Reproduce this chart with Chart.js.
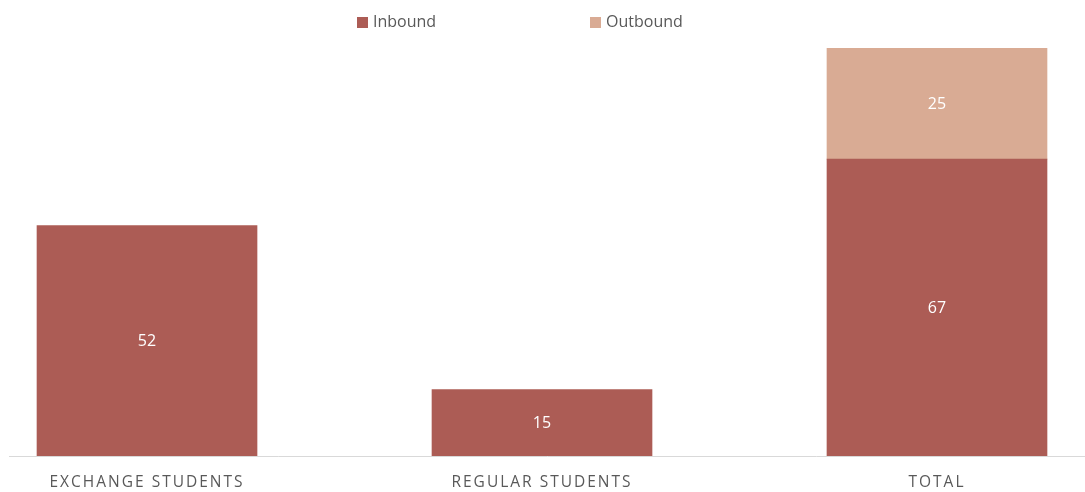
<!DOCTYPE html>
<html>
<head>
<meta charset="utf-8">
<script src="https://cdn.jsdelivr.net/npm/chart.js@4.4.0/dist/chart.umd.min.js"></script>
<style>
  html, body { margin: 0; padding: 0; background: #fff; }
  #wrap { position: relative; width: 1085px; height: 492px; }
  #legend { position: absolute; top: 9px; left: 0; width: 1085px; height: 24px; font-family: "Open Sans", sans-serif; font-size: 16px; color: #595959; }
  .item { position: absolute; top: 0; line-height: 24px; white-space: nowrap; }
  .box { display: inline-block; width: 11px; height: 11px; margin-right: 5px; vertical-align: -1px; }
</style>
</head>
<body>
<div id="wrap">
  <canvas id="chart" width="1085" height="492"></canvas>
  <div id="legend"></div>
</div>
<script>
const categories = ['EXCHANGE STUDENTS', 'REGULAR STUDENTS', 'TOTAL'];
const inbound = [52, 15, 67];
const outbound = [null, null, 25];
const seriesNames = ['Inbound', 'Outbound'];
const seriesColors = ['#ac5c55', '#d9ab94'];

// legend is html so the two items can sit far apart like the original
const legendPos = [357, 590];
const legendEl = document.getElementById('legend');
seriesNames.forEach((name, i) => {
    const item = document.createElement('span');
    item.className = 'item';
    item.style.left = legendPos[i] + 'px';
    item.innerHTML = `<span class="box" style="background:${seriesColors[i]}"></span>${name}`;
    legendEl.appendChild(item);
});

const spacingPlugin = {
    id: 'spacing',
    beforeDraw: chart => { chart.ctx.letterSpacing = '2px'; },
    beforeDatasetsDraw: chart => { chart.ctx.letterSpacing = '0px'; }
};

const valueLabels = {
    id: 'valueLabels',
    afterDatasetsDraw(chart) {
        const ctx = chart.ctx;
        ctx.save();
        ctx.letterSpacing = '0px';
        ctx.fillStyle = '#ffffff';
        ctx.font = '16px "Open Sans", sans-serif';
        ctx.textAlign = 'center';
        ctx.textBaseline = 'middle';
        chart.data.datasets.forEach((ds, di) => {
            const meta = chart.getDatasetMeta(di);
            meta.data.forEach((bar, i) => {
                const v = ds.data[i].y;
                if (v == null) return;
                ctx.fillText(String(v), bar.x, (bar.y + bar.base) / 2 + 1);
            });
        });
        ctx.restore();
    }
};

new Chart(document.getElementById('chart'), {
    type: 'bar',
    data: {
        datasets: [
            { label: seriesNames[0], data: inbound.map((v, i) => ({ x: i, y: v })), backgroundColor: seriesColors[0] },
            { label: seriesNames[1], data: outbound.map((v, i) => ({ x: i, y: v })), backgroundColor: seriesColors[1] }
        ]
    },
    options: {
        responsive: false,
        animation: false,
        layout: { padding: { top: 13, left: 9, right: 0, bottom: 3 } },
        barThickness: 220,
        plugins: { legend: { display: false }, tooltip: { enabled: false } },
        scales: {
            x: {
                type: 'linear',
                stacked: true,
                offset: false,
                min: -0.3494,
                max: 2.3747,
                afterBuildTicks: s => { s.ticks = categories.map((c, i) => ({ value: i })); },
                afterFit: s => { s.height = 33; s.paddingLeft = 0; s.paddingRight = 0; },
                grid: { display: false, drawTicks: false },
                border: { display: true, color: '#d9d9d9', width: 1 },
                ticks: {
                    autoSkip: false,
                    maxRotation: 0,
                    padding: 17,
                    color: '#595959',
                    font: { family: '"Open Sans", sans-serif', size: 15.5 },
                    callback: v => categories[v] || ''
                }
            },
            y: { stacked: true, display: false, min: 0, max: 100 }
        }
    },
    plugins: [spacingPlugin, valueLabels]
});
</script>
</body>
</html>
